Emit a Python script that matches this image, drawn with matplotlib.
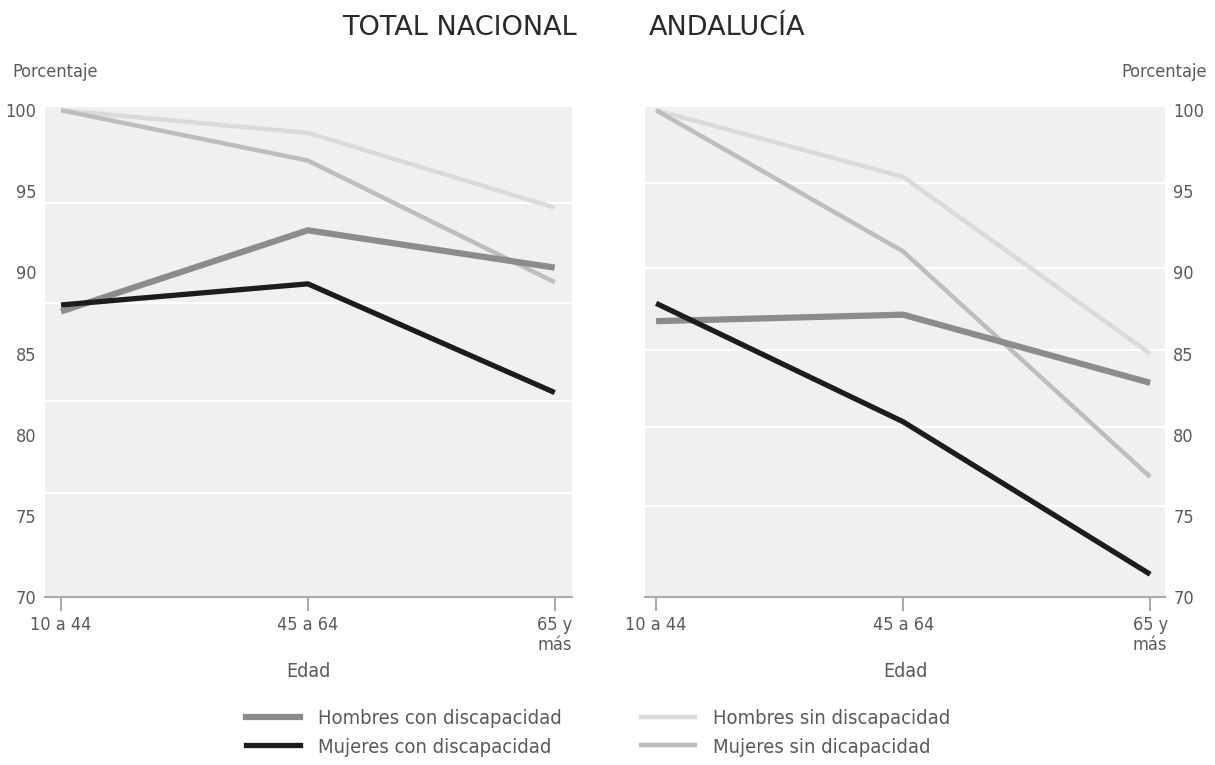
import matplotlib
matplotlib.use("Agg")
import matplotlib.pyplot as plt
from matplotlib.lines import Line2D

plt.rcParams['font.family'] = ['DejaVu Sans']
plt.rcParams['font.stretch'] = 'condensed'

edades = ["10 a 44", "45 a 64", "65 y\nmás"]
titulos = ["TOTAL NACIONAL", "ANDALUCÍA"]
series = ["Hombres con discapacidad", "Mujeres con discapacidad",
          "Hombres sin discapacidad", "Mujeres sin dicapacidad"]

nacional_hombres_con = [87.6, 92.6, 90.3]
nacional_mujeres_con = [88.0, 89.3, 82.6]
nacional_hombres_sin = [100.0, 98.6, 94.0]
nacional_mujeres_sin = [100.0, 96.9, 89.4]

andalucia_hombres_con = [87.0, 87.4, 83.2]
andalucia_mujeres_con = [88.1, 80.8, 71.4]
andalucia_hombres_sin = [100.0, 95.9, 85.0]
andalucia_mujeres_sin = [100.0, 91.3, 77.4]

yticks = [70, 75, 80, 85, 90, 95, 100]

colores = ["#8c8c8c", "#1c1c1c", "#dadada", "#bdbdbd"]
anchos = [4.5, 3.8, 3.2, 3.2]

fig = plt.figure(figsize=(12.15, 7.65), dpi=100)
ax1 = fig.add_axes([45/1215, 1-597/765, (572-45)/1215, (597-107)/765])
ax2 = fig.add_axes([645/1215, 1-597/765, (1165-645)/1215, (597-107)/765])

datos = [
    [nacional_hombres_con, nacional_mujeres_con, nacional_hombres_sin, nacional_mujeres_sin],
    [andalucia_hombres_con, andalucia_mujeres_con, andalucia_hombres_sin, andalucia_mujeres_sin],
]
bandas = [[94.3, 88.1, 82.1, 76.4], [95.5, 90.3, 85.2, 80.5, 75.6]]

tc = "#5a5a5a"
for k, (ax, d) in enumerate(zip([ax1, ax2], datos)):
    ax.set_facecolor("#f0f0f0")
    x = list(range(len(edades)))
    for b in bandas[k]:
        ax.axhline(b, color="white", lw=1.5, zorder=1)
    order = [2, 3, 0, 1]
    for i in order:
        ax.plot(x, d[i], color=colores[i], lw=anchos[i], solid_capstyle="butt", zorder=3)
    ax.set_ylim(70, 100.2)
    ax.set_xlim(-0.065 if k == 0 else -0.045, 2.07 if k == 0 else 2.06)
    ax.set_xticks(x)
    ax.set_xticklabels(edades, color=tc, fontsize=13, linespacing=1.1)
    ax.get_xticklabels()[-1].set_horizontalalignment("center")
    ax.set_yticks(yticks)
    ax.set_yticklabels([str(v) for v in yticks], color=tc, fontsize=13)
    ax.tick_params(axis="x", length=10, width=1.2, color="#999999", pad=4)
    ax.tick_params(axis="y", length=0, pad=6)
    for s in ["top", "right", "left"]:
        ax.spines[s].set_visible(False)
    ax.spines["bottom"].set_color("#aaaaaa")
    ax.spines["bottom"].set_linewidth(1.5)
    ax.set_xlabel("Edad", color=tc, fontsize=14, labelpad=6)
    ax.grid(False)

ax2.yaxis.tick_right()
ax2.tick_params(axis="y", length=0, pad=6)

fig.text(12/1215, 1-72/765, "Porcentaje", color=tc, fontsize=13, ha="left", va="center")
fig.text(1207/1215, 1-72/765, "Porcentaje", color=tc, fontsize=13, ha="right", va="center")
fig.text(459/1215, 1-28/765, titulos[0], color="#2a2a2a", fontsize=19.5, ha="center", va="center",
         fontstretch="normal")
fig.text(727/1215, 1-28/765, titulos[1], color="#2a2a2a", fontsize=19.5, ha="center", va="center",
         fontstretch="normal")

handles = [Line2D([0], [0], color=colores[i], lw=anchos[i]) for i in range(4)]
leg = fig.legend(handles, series, ncol=2, loc="center", bbox_to_anchor=(598/1215, 1-733/765),
                 frameon=False, fontsize=14.5, handlelength=2.7, columnspacing=3.9,
                 labelspacing=0.45, handletextpad=0.9)
for t in leg.get_texts():
    t.set_color(tc)

fig.savefig("out.png", dpi=100)
